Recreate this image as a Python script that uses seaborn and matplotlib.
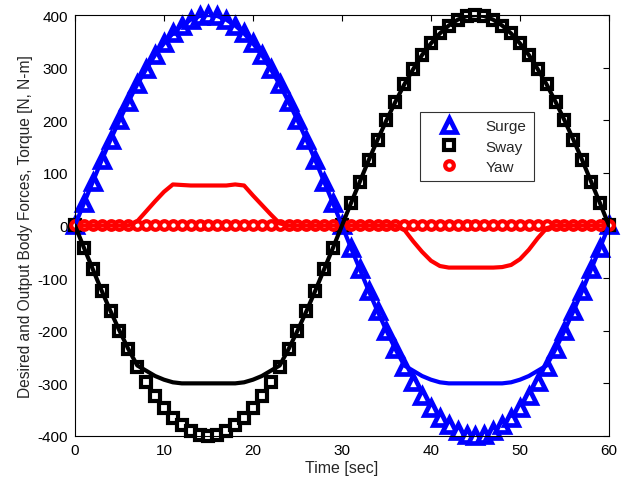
import numpy as np
import pandas as pd
import matplotlib
matplotlib.use("Agg")
import matplotlib.pyplot as plt
import seaborn as sns
from matplotlib.lines import Line2D

# ---- data ----
time = list(range(0, 61))

surge_desired = [0, 42, 83, 124, 163, 200, 235, 268, 297, 324, 346, 365, 380, 391, 398, 400,
                 398, 391, 380, 365, 346, 324, 297, 268, 235, 200, 163, 124, 83, 42, 0,
                 -42, -83, -124, -163, -200, -235, -268, -297, -324, -346, -365, -380, -391, -398, -400,
                 -398, -391, -380, -365, -346, -324, -297, -268, -235, -200, -163, -124, -83, -42, 0]

sway_desired = [0, -42, -83, -124, -163, -200, -235, -268, -297, -324, -346, -365, -380, -391, -398, -400,
                -398, -391, -380, -365, -346, -324, -297, -268, -235, -200, -163, -124, -83, -42, 0,
                42, 83, 124, 163, 200, 235, 268, 297, 324, 346, 365, 380, 391, 398, 400,
                398, 391, 380, 365, 346, 324, 297, 268, 235, 200, 163, 124, 83, 42, 0]

yaw_desired = [0] * 61

surge_output = [0, 42, 83, 124, 163, 200, 235, 268, 297, 324, 346, 365, 380, 391, 398, 400,
                398, 391, 380, 365, 346, 324, 297, 268, 235, 200, 163, 124, 83, 42, 0,
                -42, -83, -124, -163, -200, -235, -266, -276, -286, -293, -298, -300, -300, -300, -300,
                -300, -300, -300, -298, -293, -286, -276, -266, -235, -200, -163, -124, -83, -42, 0]

sway_output = [0, -42, -83, -124, -163, -200, -235, -266, -276, -286, -293, -298, -300, -300, -300, -300,
               -300, -300, -300, -298, -293, -286, -276, -266, -235, -200, -163, -124, -83, -42, 0,
               42, 83, 124, 163, 200, 235, 268, 297, 324, 346, 365, 380, 391, 398, 400,
               398, 391, 380, 365, 346, 324, 297, 268, 235, 200, 163, 124, 83, 42, 0]

yaw_output = [0, 0, 0, 0, 0, 0, 0, 8, 27, 46, 64, 78, 77, 76, 76, 76,
              76, 76, 78, 76, 57, 39, 21, 4, 0, 0, 0, 0, 0, 0, 0,
              0, 0, 0, 0, 0, 0, -8, -30, -50, -67, -77, -80, -80, -80, -80,
              -80, -80, -79, -75, -64, -46, -24, -5, 0, 0, 0, 0, 0, 0, 0]

series_names = ["Surge", "Sway", "Yaw"]

df = pd.DataFrame({
    "t": time,
    "surge_d": surge_desired, "sway_d": sway_desired, "yaw_d": yaw_desired,
    "surge_o": surge_output, "sway_o": sway_output, "yaw_o": yaw_output,
})

sns.set_style("white")
plt.rcParams["font.family"] = ["Liberation Sans", "DejaVu Sans"]
plt.rcParams["axes.unicode_minus"] = False

fig = plt.figure(figsize=(6.28, 4.85), dpi=100)
ax = fig.add_axes([0.1194, 0.099, 0.8503, 0.868])

tri = dict(marker="^", markersize=10, markeredgewidth=3.4, markerfacecolor="white",
           markeredgecolor="#0000ff")
sq = dict(marker="s", markersize=6.8, markeredgewidth=3.0, markerfacecolor="white",
          markeredgecolor="#000000")
circ = dict(marker="o", markersize=6.2, markeredgewidth=3.0, markerfacecolor="white",
            markeredgecolor="#ff0000")

# desired values as markers
sns.lineplot(data=df, x="t", y="surge_d", ax=ax, linestyle="none", color="#0000ff",
             clip_on=False, zorder=2, **tri)
sns.lineplot(data=df, x="t", y="sway_d", ax=ax, linestyle="none", color="#000000",
             clip_on=False, zorder=2, **sq)
sns.lineplot(data=df, x="t", y="yaw_d", ax=ax, linestyle="none", color="#ff0000",
             clip_on=False, zorder=2, **circ)

# output values as lines
sns.lineplot(data=df, x="t", y="yaw_o", ax=ax, color="#ff0000", linewidth=3, zorder=3)
sns.lineplot(data=df, x="t", y="surge_o", ax=ax, color="#0000ff", linewidth=3, zorder=3)
sns.lineplot(data=df, x="t", y="sway_o", ax=ax, color="#000000", linewidth=3, zorder=3)

ax.set_xlim(0, 60)
ax.set_ylim(-400, 400)
ax.set_xticks(range(0, 61, 10))
ax.set_yticks(range(-400, 401, 100))
ax.tick_params(direction="in", top=True, right=True, length=4, width=0.8,
               labelsize=11, colors="black", pad=5)
for sp in ax.spines.values():
    sp.set_color("black")
    sp.set_linewidth(0.8)
ax.set_xlabel("Time [sec]", fontsize=11.5, labelpad=2)
ax.set_ylabel("Desired and Output Body Forces, Torque [N, N-m]", fontsize=11.2, labelpad=3)

handles = [Line2D([], [], linestyle="none", **tri),
           Line2D([], [], linestyle="none", **sq),
           Line2D([], [], linestyle="none", **circ)]
leg = ax.legend(handles, series_names, loc="upper left", bbox_to_anchor=(0.647, 0.770),
                fontsize=11, frameon=True, fancybox=False, edgecolor="black",
                borderpad=0.5, labelspacing=0.4, handletextpad=1.0, handlelength=2.75,
                borderaxespad=0)
leg.get_frame().set_linewidth(0.8)
leg.set_zorder(5)

fig.savefig("out.png", dpi=100)
